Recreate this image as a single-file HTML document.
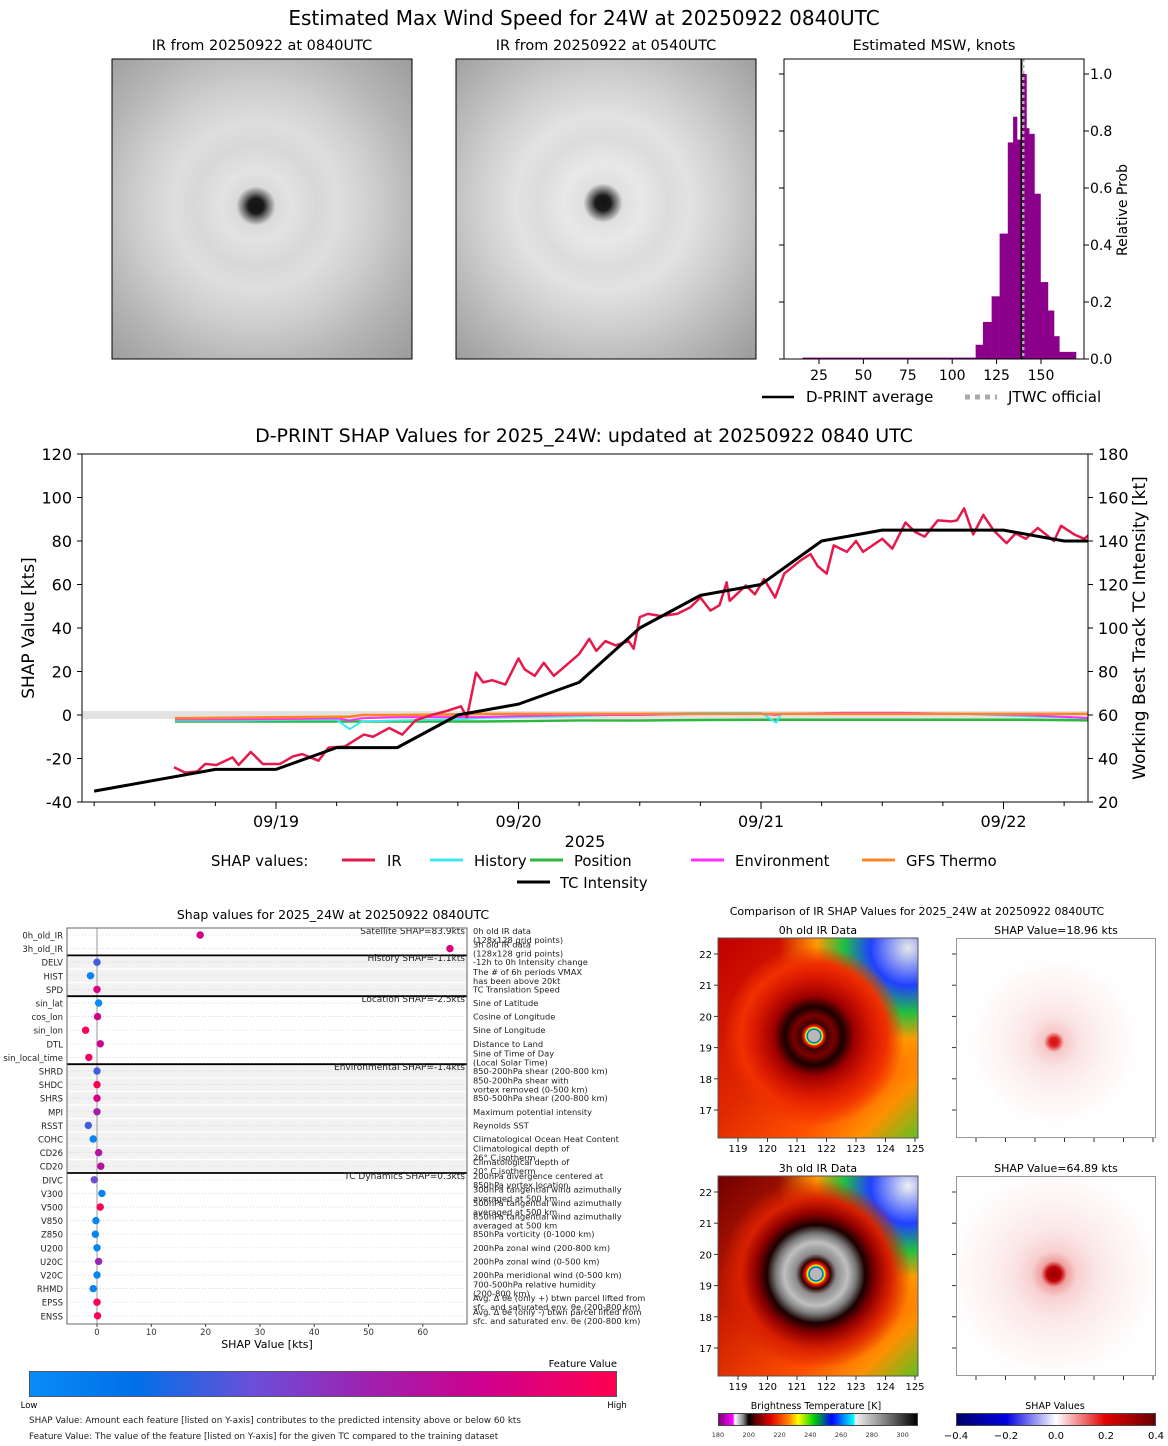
<!DOCTYPE html>
<html><head><meta charset="utf-8">
<style>
html,body{margin:0;padding:0;background:#fff;}
#wrap{position:relative;width:1168px;height:1446px;overflow:hidden;font-family:"DejaVu Sans","Liberation Sans",sans-serif;}
.img{position:absolute;}
svg{position:absolute;left:0;top:0;}
</style></head>
<body>
<div id="wrap">
<div class="img" style="left:112px;top:59px;width:300px;height:300px;background:
radial-gradient(circle at 48% 49%,#141414 0,#1a1a1a 3.5%,#666 5.5%,#dadada 9%,#e2e2e2 16%,#d8d8d8 28%,#dedede 38%,#cdcdcd 55%,#b4b4b4 75%,#9a9a9a 100%);"></div>
<div class="img" style="left:456px;top:59px;width:300px;height:300px;background:
radial-gradient(circle at 49% 48%,#141414 0,#1a1a1a 3.5%,#666 5.5%,#e0e0e0 9%,#e8e8e8 18%,#dcdcdc 30%,#e2e2e2 40%,#cecece 58%,#b2b2b2 80%,#9a9a9a 100%);"></div>
<div class="img" style="left:718px;top:938px;width:200px;height:200px;background:
radial-gradient(circle at 48% 49%,#b8b8b8 0,#b8b8b8 4%,#0030ff 4.6%,#00ff40 5.2%,#ffff00 5.8%,#ff2000 6.6%,#400000 9%,#7a0000 14%,#1a0000 20%,#a00000 28%,#d81800 40%,#f03000 50%,rgba(255,110,0,0.0) 62%),
radial-gradient(ellipse at 95% 5%,#e8e8e8 0,#2040ff 14%,#20c040 24%,#ff9a00 34%,rgba(255,80,0,0) 48%),
linear-gradient(135deg,#c00000 0%,#e02800 45%,#ff5000 70%,#ff9000 85%,#60c020 100%);"></div>
<div class="img" style="left:718px;top:1176px;width:200px;height:200px;background:
radial-gradient(circle at 49% 49%,#b8b8b8 0,#b8b8b8 4%,#0030ff 4.8%,#00ff40 5.4%,#ffff00 6%,#ff2000 7%,#300000 10%,#8a8a8a 14%,#c0c0c0 22%,#777 28%,#1a0000 34%,#900000 42%,#d82000 52%,rgba(255,110,0,0) 66%),
radial-gradient(ellipse at 95% 5%,#f0f0f0 0,#2040ff 14%,#20c040 24%,#ff9a00 34%,rgba(255,80,0,0) 48%),
linear-gradient(135deg,#700000 0%,#d02000 40%,#ff5000 70%,#ff9000 85%,#60c020 100%);"></div>
<div class="img" style="left:956px;top:938px;width:200px;height:200px;border:1px solid #999;box-sizing:border-box;background:
radial-gradient(circle at 49% 52%,#d01010 0,#e02020 3%,#f6c8c8 7%,#fbe4e4 18%,#fdf2f2 35%,#fff 60%);"></div>
<div class="img" style="left:956px;top:1176px;width:200px;height:200px;border:1px solid #999;box-sizing:border-box;background:
radial-gradient(circle at 49% 49%,#900000 0,#c00000 5%,#f0a0a0 9%,#f8d0d0 16%,#fbe6e6 30%,#fdf3f3 50%,#fff 75%);"></div>
<div class="img" style="left:718px;top:1413px;width:200px;height:13px;border:1px solid #444;box-sizing:border-box;background:linear-gradient(90deg,#800080 0%,#ff00ff 7%,#fff 8%,#909090 12%,#000 15%,#500000 18%,#e00000 26%,#ff8000 35%,#ffff00 40%,#00d000 48%,#0000ff 57%,#00ffff 68%,#f0f0f0 69%,#909090 82%,#000 100%);"></div>
<div class="img" style="left:956px;top:1413px;width:200px;height:13px;border:1px solid #444;box-sizing:border-box;background:linear-gradient(90deg,#00006a 0%,#0000e0 25%,#fff 50%,#e00000 75%,#6a0000 100%);"></div>
<div class="img" style="left:29px;top:1371px;width:588px;height:26px;border:1px solid #555;box-sizing:border-box;background:linear-gradient(90deg,#0a8cf8 0%,#0070e8 18%,#6a50d8 38%,#a020b0 58%,#d0008c 78%,#ff0050 100%);"></div>

<svg id="s" width="1168" height="1446" font-family="DejaVu Sans, Liberation Sans, sans-serif">
<defs><clipPath id="mainclip"><rect x="82" y="454" width="1006" height="348"/></clipPath></defs>
<text x="584" y="25" font-size="20" text-anchor="middle">Estimated Max Wind Speed for 24W at 20250922 0840UTC</text>
<text x="262" y="50" font-size="14.5" text-anchor="middle">IR from 20250922 at 0840UTC</text>
<text x="606" y="50" font-size="14.5" text-anchor="middle">IR from 20250922 at 0540UTC</text>
<text x="934" y="50" font-size="14.5" text-anchor="middle">Estimated MSW, knots</text>
<rect x="112" y="59" width="300" height="300" fill="none" stroke="#000" stroke-width="1"/>
<rect x="456" y="59" width="300" height="300" fill="none" stroke="#000" stroke-width="1"/>
<g id="hist"></g>
<g id="main"></g>
<g id="bar"></g>
<g id="maps"></g>
</svg>
</div>
<script>
const NS='http://www.w3.org/2000/svg';
function mk(parent,tag,attrs,text){const e=document.createElementNS(NS,tag);for(const k in attrs)e.setAttribute(k,attrs[k]);if(text!==undefined)e.textContent=text;parent.appendChild(e);return e;}

const binEdges=[15.7,113.2,117.3,122.2,126.7,131.3,134.3,136.5,138.8,141.8,143.3,146.3,149.7,153.9,157.3,160.3,169.7];
const binProbs=[0.005,0.05,0.13,0.22,0.44,0.76,0.85,0.77,1.0,0.81,0.79,0.58,0.27,0.17,0.08,0.025];
const histTicks=[25,50,75,100,125,150];
const probTicks=[0,0.2,0.4,0.6,0.8,1.0];
const dprintAvg=139;
const jtwcOfficial=140;

const irHours=[-10.1,-9,-7.8,-7,-5.9,-4.3,-3.7,-2.5,-1.3,0.4,1.7,2.6,4.2,5.2,6.8,8.7,9.6,11.2,12.5,13.8,15.4,17,18.3,18.9,19.8,20.5,21.4,22.7,24,24.6,25.6,26.5,27.5,28.5,30,31,31.7,32.6,33.6,34.9,35.4,36,36.8,38.1,39.7,41,42,43,43.9,44.6,44.9,46.5,47.4,48.3,49.4,50.3,51.9,52.9,53.6,54.5,55.2,56.5,57.4,58.1,60,61,62.3,63.3,64.2,65.5,66.8,67.4,68.1,69,70,71,72.3,73.2,74.2,75.4,77,77.7,79,80,81];
const irShap=[-24,-26.5,-26,-22.5,-23,-19.5,-23,-17,-22.5,-22.5,-19,-18,-21,-15,-14.5,-9,-10,-6,-9,-2.5,0,2,4,-1,19.5,15,16,14,26,21,18,24,18,22,28,35,29.5,34,32,34,30.5,45,46.5,45.5,46.5,49.5,54,48,50.5,61,52.5,59.5,55.5,62.5,54,65,71,74,68.5,65,78,75,80,75,81,76.5,88.5,84,82,89.5,89,89.5,95,83,92,85,79,83.5,81,86,80,87,83,81,85];
const tcHours=[-18,-6,0,6,12,18,24,30,36,42,48,54,60,66,72,78,82];
const tcKt=[25,35,35,45,45,60,65,75,100,115,120,140,145,145,145,140,140];
const envHours=[-10,-4,2,6,7.3,8.5,12,18,20,24,30,36,42,48,49.5,50,56,62,68,74,81];
const historyShap=[-2.5,-2.5,-2.2,-2.2,-6.5,-3,-2.5,-2,-1.5,-1,-0.5,0.5,1,1,-3.5,0.5,0.5,0.5,0.5,-0.5,-1.5];
const positionShap=[-3,-3,-3,-3,-3,-3,-3,-3,-3,-2.8,-2.5,-2.5,-2.3,-2.2,-2.2,-2.2,-2.2,-2.2,-2.2,-2.2,-2.5];
const environmentShap=[-2,-2,-1.8,-1.5,-2.5,-1.5,-1,-1,-1,-0.5,0,0,0.5,0.5,0,0.5,1,1,0.5,0,-1.5];
const gfsShap=[-1.5,-1.2,-1,-0.8,-0.8,0,0,0.3,0.5,0.5,0.5,0.5,0.5,0.5,0.5,0.5,0.5,0.5,0.5,0.5,0.5];
const shapTicks=[-40,-20,0,20,40,60,80,100,120];
const ktTicks=[20,40,60,80,100,120,140,160,180];
const dayTicks=[0,24,48,72];
const dayLabels=['09/19','09/20','09/21','09/22'];

const features=['0h_old_IR','3h_old_IR','DELV','HIST','SPD','sin_lat','cos_lon','sin_lon','DTL','sin_local_time','SHRD','SHDC','SHRS','MPI','RSST','COHC','CD26','CD20','DIVC','V300','V500','V850','Z850','U200','U20C','V20C','RHMD','EPSS','ENSS'];
const featureShap=[19,65,0,-1.2,0,0.3,0.1,-2.1,0.6,-1.5,0,0,0,0,-1.6,-0.7,0.3,0.7,-0.5,0.9,0.6,-0.2,-0.3,0,0.3,0,-0.7,0,0.1];
const featureLevel=[0.8,0.85,0.3,0.05,0.82,0.02,0.8,1.0,0.75,0.95,0.3,0.97,0.82,0.6,0.3,0.05,0.65,0.68,0.4,0.05,1.0,0.05,0.05,0.05,0.55,0.05,0.05,0.98,0.98];
const groupNames=['Satellite SHAP=83.9kts','History SHAP=-1.1kts','Location SHAP=-2.5kts','Environmental SHAP=-1.4kts','TC Dynamics SHAP=0.3kts'];
const groupStart=[0,2,5,10,18];
const descriptions=[["0h old IR data","(128x128 grid points)"],["3h old IR data","(128x128 grid points)"],["-12h to 0h Intensity change"],["The # of 6h periods VMAX","has been above 20kt"],["TC Translation Speed"],["Sine of Latitude"],["Cosine of Longitude"],["Sine of Longitude"],["Distance to Land"],["Sine of Time of Day","(Local Solar Time)"],["850-200hPa shear (200-800 km)"],["850-200hPa shear with","vortex removed (0-500 km)"],["850-500hPa shear (200-800 km)"],["Maximum potential intensity"],["Reynolds SST"],["Climatological Ocean Heat Content"],["Climatological depth of","26° C isotherm"],["Climatological depth of","20° C isotherm"],["200hPa divergence centered at","850hPa vortex location"],["300hPa tangential wind azimuthally","averaged at 500 km"],["500hPa tangential wind azimuthally","averaged at 500 km"],["850hPa tangential wind azimuthally","averaged at 500 km"],["850hPa vorticity (0-1000 km)"],["200hPa zonal wind (200-800 km)"],["200hPa zonal wind (0-500 km)"],["200hPa meridional wind (0-500 km)"],["700-500hPa relative humidity","(200-800 km)"],["Avg. Δ θe (only +) btwn parcel lifted from","sfc. and saturated env. θe (200-800 km)"],["Avg. Δ θe (only -) btwn parcel lifted from","sfc. and saturated env. θe (200-800 km)"]];
const shapAxisTicks=[0,10,20,30,40,50,60];

const latTicks=[22,21,20,19,18,17];
const lonTicks=[119,120,121,122,123,124,125];
const btTicks=[180,200,220,240,260,280,300];
const shapCbTicks=[-0.4,-0.2,0.0,0.2,0.4];

(function(){
const g=document.getElementById('hist');
const xH=k=>819+(k-25)*1.776, yH=p=>359-p*285;
for(let i=0;i<binProbs.length;i++){
  const r=mk(g,'rect',{x:xH(binEdges[i]),y:yH(binProbs[i]),width:xH(binEdges[i+1])-xH(binEdges[i])+0.3,height:359-yH(binProbs[i]),fill:'#8b008b'});
  
  
}
let l=mk(g,'line',{x1:xH(dprintAvg),x2:xH(dprintAvg),y1:59,y2:359,stroke:'#000','stroke-width':2});


l=mk(g,'line',{x1:xH(jtwcOfficial),x2:xH(jtwcOfficial),y1:59,y2:359,stroke:'#aaa','stroke-width':2.5,'stroke-dasharray':'3,3'});


mk(g,'rect',{x:784,y:59,width:300,height:300,fill:'none',stroke:'#000'});
histTicks.forEach(t=>{mk(g,'line',{x1:xH(t),x2:xH(t),y1:359,y2:364,stroke:'#000'});
  const tx=mk(g,'text',{x:xH(t),y:380,'font-size':14,'text-anchor':'middle'},t);
  
  });
probTicks.forEach(t=>{mk(g,'line',{x1:1084,x2:1089,y1:yH(t),y2:yH(t),stroke:'#000'});
  mk(g,'line',{x1:779,x2:784,y1:yH(t),y2:yH(t),stroke:'#000'});
  const tx=mk(g,'text',{x:1090,y:yH(t)+5,'font-size':14},t.toFixed(1));
  
  });
const yl=mk(g,'text',{x:1127,y:210,'font-size':14,'text-anchor':'middle',transform:'rotate(-90 1127 210)'},'Relative Prob');


mk(g,'line',{x1:762,x2:794,y1:397,y2:397,stroke:'#000','stroke-width':2.5});
let t=mk(g,'text',{x:806,y:402,'font-size':15},'D-PRINT average');


mk(g,'line',{x1:965,x2:997,y1:397,y2:397,stroke:'#aaa','stroke-width':5,'stroke-dasharray':'5,5'});
t=mk(g,'text',{x:1008,y:402,'font-size':15},'JTWC official');


})();

(function(){
const g=document.getElementById('main');
const xT=h=>276+h*242.5/24, yS=v=>715-v*2.175, yK=k=>yS(k-60);
const ti=mk(g,'text',{x:584,y:442,'font-size':19,'text-anchor':'middle'},'D-PRINT SHAP Values for 2025_24W: updated at 20250922 0840 UTC');


mk(g,'rect',{x:82,y:yS(1.8),width:1006,height:yS(-1.8)-yS(1.8),fill:'#e2e2e2'});
const cg=mk(g,'g',{'clip-path':'url(#mainclip)'});
function series(hs,vs,color,w,name,yf){
  const p=mk(cg,'polyline',{points:hs.map((h,i)=>xT(h)+','+yf(vs[i])).join(' '),fill:'none',stroke:color,'stroke-width':w,'stroke-linejoin':'round'});
  
  
}
series(envHours,positionShap,'#2cb83c',2.5,'position-line',yS);
series(envHours,historyShap,'#3ee8f0',2,'history-line',yS);
series(envHours,environmentShap,'#ff30ff',2,'environment-line',yS);
series(envHours,gfsShap,'#ff8424',2.5,'gfs-thermo-line',yS);
series(irHours,irShap,'#e5194b',2.5,'ir-line',yS);
series(tcHours,tcKt,'#000',3,'tc-intensity-line',yK);
mk(g,'rect',{x:82,y:454,width:1006,height:348,fill:'none',stroke:'#000','stroke-width':1});
shapTicks.forEach(v=>{mk(g,'line',{x1:77,x2:82,y1:yS(v),y2:yS(v),stroke:'#000'});
  const t=mk(g,'text',{x:72,y:yS(v)+6,'font-size':16,'text-anchor':'end'},v);
  
  });
ktTicks.forEach(v=>{mk(g,'line',{x1:1088,x2:1093,y1:yK(v),y2:yK(v),stroke:'#000'});
  const t=mk(g,'text',{x:1098,y:yK(v)+6,'font-size':16},v);
  
  });
for(let h=-18;h<=80;h+=6){const maj=dayTicks.includes(h);
  mk(g,'line',{x1:xT(h),x2:xT(h),y1:802,y2:maj?809:806,stroke:'#000'});}
dayTicks.forEach((h,i)=>{const t=mk(g,'text',{x:xT(h),y:827,'font-size':16,'text-anchor':'middle'},dayLabels[i]);
  
  });
let t=mk(g,'text',{x:585,y:847,'font-size':16,'text-anchor':'middle'},'2025');


t=mk(g,'text',{x:34,y:628,'font-size':17,'text-anchor':'middle',transform:'rotate(-90 34 628)'},'SHAP Value [kts]');


t=mk(g,'text',{x:1145,y:628,'font-size':17,'text-anchor':'middle',transform:'rotate(-90 1145 628)'},'Working Best Track TC Intensity [kt]');


t=mk(g,'text',{x:211,y:866,'font-size':14.8},'SHAP values:');


const leg=[['IR','#e5194b',342,387],['History','#3ee8f0',430,474],['Position','#2cb83c',530,574],['Environment','#ff30ff',691,735],['GFS Thermo','#ff8424',862,906]];
leg.forEach(L=>{mk(g,'line',{x1:L[2],x2:L[2]+33,y1:860,y2:860,stroke:L[1],'stroke-width':3});
  const e=mk(g,'text',{x:L[3],y:866,'font-size':14.8},L[0]);
  
  });
mk(g,'line',{x1:517,x2:550,y1:882,y2:882,stroke:'#000','stroke-width':3});
t=mk(g,'text',{x:560,y:888,'font-size':14.8},'TC Intensity');


})();

(function(){
const g=document.getElementById('bar');
const xF=v=>97+v*5.43, yR=i=>935+i*13.6;
function cmap(f){const st=[[0,[10,140,248]],[0.18,[0,112,232]],[0.38,[106,80,216]],[0.58,[160,32,176]],[0.78,[208,0,140]],[1,[255,0,80]]];
  for(let i=1;i<st.length;i++){if(f<=st[i][0]){const a=st[i-1],b=st[i],u=(f-a[0])/(b[0]-a[0]);return 'rgb('+a[1].map((c,j)=>Math.round(c+(b[1][j]-c)*u)).join(',')+')';}}return 'rgb(255,0,80)';}
let t=mk(g,'text',{x:333,y:919,'font-size':12.5,'text-anchor':'middle'},'Shap values for 2025_24W at 20250922 0840UTC');


const grays=[false,true,false,true,false];
groupStart.forEach((s,gi)=>{const e=gi<groupStart.length-1?groupStart[gi+1]:features.length;
  mk(g,'rect',{x:67,y:yR(s-0.5),width:400,height:(e-s)*13.6,fill:grays[gi]?'#f2f2f2':'#fff'});});
features.forEach((f,i)=>{mk(g,'line',{x1:67,x2:467,y1:yR(i),y2:yR(i),stroke:'#ccc','stroke-dasharray':'1,2','stroke-width':0.7});
  mk(g,'line',{x1:67,x2:467,y1:yR(i)+6.8,y2:yR(i)+6.8,stroke:'#fff','stroke-width':1.2});});
mk(g,'line',{x1:xF(0),x2:xF(0),y1:928,y2:1324,stroke:'#aaa','stroke-width':1.2});
groupStart.forEach((s,gi)=>{if(gi>0)mk(g,'line',{x1:67,x2:467,y1:yR(s-0.5),y2:yR(s-0.5),stroke:'#000','stroke-width':1.8});
  const e=mk(g,'text',{x:465,y:yR(s)-1,'font-size':9,'text-anchor':'end',fill:'#222'},groupNames[gi]);
  
  });
mk(g,'rect',{x:67,y:928,width:400,height:396,fill:'none',stroke:'#666'});
features.forEach((f,i)=>{
  const lb=mk(g,'text',{x:63,y:yR(i)+3.5,'font-size':8.5,'text-anchor':'end',fill:'#222'},f);
  
  
  const c=mk(g,'circle',{cx:xF(featureShap[i]),cy:yR(i),r:3.7,fill:cmap(featureLevel[i])});
  
  
  const d=descriptions[i];
  if(d.length===1){const e=mk(g,'text',{x:473,y:yR(i)+3,'font-size':8.3,fill:'#222'},d[0]);
    
    }
  else{d.forEach((ln,k)=>{const e=mk(g,'text',{x:473,y:yR(i)-1+k*9,'font-size':8.3,fill:'#222'},ln);
    
    });}
});
shapAxisTicks.forEach(v=>{mk(g,'line',{x1:xF(v),x2:xF(v),y1:1324,y2:1327,stroke:'#444'});
  const e=mk(g,'text',{x:xF(v),y:1335,'font-size':8.5,'text-anchor':'middle',fill:'#333'},v);
  
  });
t=mk(g,'text',{x:267,y:1348,'font-size':11,'text-anchor':'middle'},'SHAP Value [kts]');


t=mk(g,'text',{x:617,y:1367,'font-size':10,'text-anchor':'end'},'Feature Value');


t=mk(g,'text',{x:29,y:1408,'font-size':8.5,'text-anchor':'middle'},'Low');


t=mk(g,'text',{x:617,y:1408,'font-size':8.5,'text-anchor':'middle'},'High');


t=mk(g,'text',{x:29,y:1423,'font-size':8.8,fill:'#222'},'SHAP Value: Amount each feature [listed on Y-axis] contributes to the predicted intensity above or below 60 kts');


t=mk(g,'text',{x:29,y:1439,'font-size':8.8,fill:'#222'},'Feature Value: The value of the feature [listed on Y-axis] for the given TC compared to the training dataset');


})();

(function(){
const g=document.getElementById('maps');
let t=mk(g,'text',{x:917,y:915,'font-size':11,'text-anchor':'middle'},'Comparison of IR SHAP Values for 2025_24W at 20250922 0840UTC');


const titles=[['0h old IR Data',818,934],['SHAP Value=18.96 kts',1056,934],['3h old IR Data',818,1172],['SHAP Value=64.89 kts',1056,1172]];
titles.forEach(T=>{const e=mk(g,'text',{x:T[1],y:T[2],'font-size':11,'text-anchor':'middle'},T[0]);
  
  });
const tops=[938,1176];
tops.forEach(top=>{
  mk(g,'rect',{x:718,y:top,width:200,height:200,fill:'none',stroke:'#555'});
  const yL=lat=>top+16+(22-lat)*31.2;
  latTicks.forEach(la=>{mk(g,'line',{x1:714,x2:718,y1:yL(la),y2:yL(la),stroke:'#333'});
    mk(g,'line',{x1:952,x2:956,y1:yL(la),y2:yL(la),stroke:'#333'});
    const e=mk(g,'text',{x:712,y:yL(la)+4,'font-size':10,'text-anchor':'end'},la);
    
    });
  const xL=lo=>738+(lo-119)*29.5;
  lonTicks.forEach(lo=>{mk(g,'line',{x1:xL(lo),x2:xL(lo),y1:top+200,y2:top+204,stroke:'#333'});
    mk(g,'line',{x1:xL(lo)+238,x2:xL(lo)+238,y1:top+200,y2:top+204,stroke:'#333'});
    const e=mk(g,'text',{x:xL(lo),y:top+214,'font-size':10,'text-anchor':'middle'},lo);
    
    });
});
t=mk(g,'text',{x:816,y:1409,'font-size':9.5,'text-anchor':'middle'},'Brightness Temperature [K]');


t=mk(g,'text',{x:1055,y:1409,'font-size':9.5,'text-anchor':'middle'},'SHAP Values');


btTicks.forEach(v=>{const x=718+(v-180)/130*200;
  const e=mk(g,'text',{x:x,y:1437,'font-size':6.5,'text-anchor':'middle',fill:'#333'},v);
  
  });
shapCbTicks.forEach(v=>{const x=956+(v+0.4)/0.8*200;
  const e=mk(g,'text',{x:x,y:1439,'font-size':10,'text-anchor':'middle'},v===0?'0.0':(v<0?'\u2212'+Math.abs(v).toFixed(1):v.toFixed(1)));
  
  });
})();
</script>
</body></html>
